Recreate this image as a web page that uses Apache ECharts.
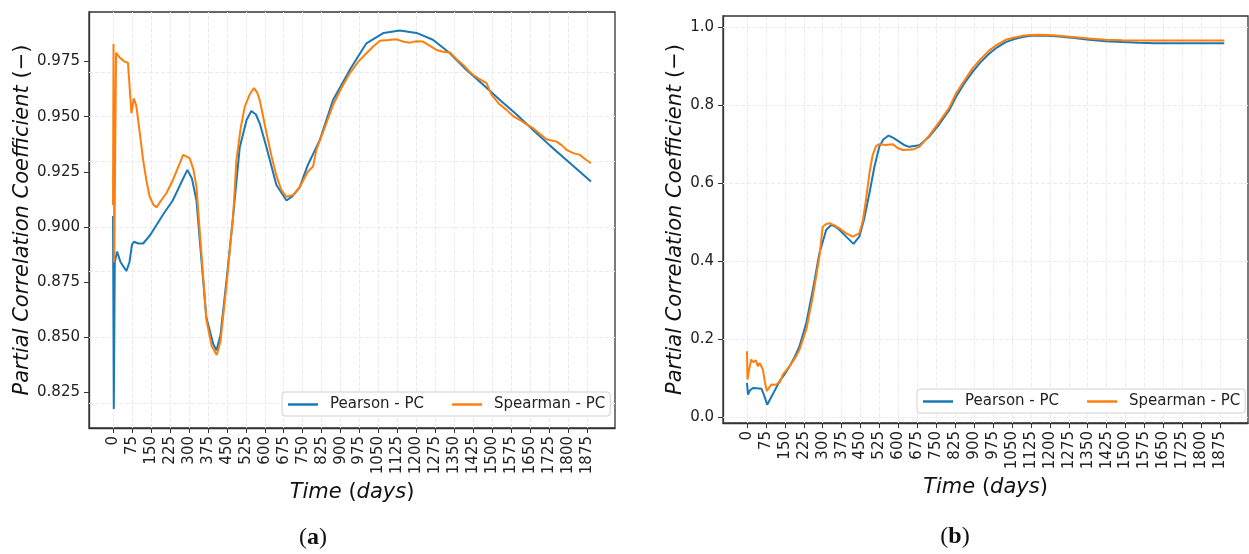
<!DOCTYPE html>
<html>
<head>
<meta charset="utf-8">
<script src="https://cdn.jsdelivr.net/npm/echarts@6/dist/echarts.min.js"></script>
<style>html,body{margin:0;padding:0;background:#fff}#main{width:1249px;height:554px}</style>
</head>
<body>
<div id="main"></div>
<script>
// tick values (days) shared by both panels
var dayTicks = [0,75,150,225,300,375,450,525,600,675,750,825,900,975,1050,1125,1200,1275,1350,1425,1500,1575,1650,1725,1800,1875];
var ticksA = [0.825,0.850,0.875,0.900,0.925,0.950,0.975];
var ticksB = [0.0,0.2,0.4,0.6,0.8,1.0];
var seriesNames = ['Pearson - PC','Spearman - PC'];

// panel (a): [day, value]
var pearsonA = [[0,0.905],[3,0.8174],[7,0.884],[16,0.8888],[30,0.884],[53,0.880],[65,0.884],[75,0.892],[83,0.8933],[100,0.8925],[119,0.8925],[145,0.896],[172,0.9009],[200,0.906],[236,0.912],[265,0.919],[294,0.9259],[312,0.922],[330,0.912],[343,0.894],[369,0.859],[396,0.847],[409,0.844],[425,0.851],[449,0.876],[475,0.905],[501,0.936],[528,0.9485],[547,0.9526],[565,0.951],[580,0.947],[607,0.936],[646,0.919],[686,0.912],[710,0.914],[738,0.918],[770,0.928],[818,0.9395],[870,0.9576],[940,0.972],[1002,0.9833],[1070,0.988],[1134,0.9891],[1200,0.988],[1265,0.9849],[1330,0.979],[1398,0.9712],[1464,0.9645],[1530,0.9576],[1596,0.951],[1661,0.944],[1727,0.937],[1793,0.9304],[1890,0.9206]];
var spearmanA = [[0,0.91],[2,0.983],[5,0.884],[12,0.979],[25,0.977],[45,0.975],[59,0.9745],[66,0.963],[73,0.9516],[82,0.9583],[92,0.955],[106,0.9425],[119,0.9304],[132,0.921],[145,0.9137],[160,0.910],[172,0.9089],[190,0.912],[211,0.9153],[237,0.9213],[264,0.9289],[277,0.9327],[303,0.9312],[318,0.926],[330,0.9183],[345,0.895],[369,0.858],[390,0.846],[410,0.8419],[425,0.848],[449,0.874],[475,0.905],[488,0.9304],[505,0.945],[521,0.9546],[540,0.960],[557,0.963],[570,0.961],[580,0.9576],[607,0.9425],[627,0.932],[647,0.9228],[665,0.917],[686,0.9137],[712,0.9145],[738,0.918],[770,0.925],[791,0.9274],[804,0.9349],[837,0.945],[870,0.9553],[903,0.963],[936,0.9697],[970,0.975],[1002,0.9788],[1030,0.982],[1055,0.9845],[1090,0.9848],[1121,0.9851],[1150,0.984],[1174,0.9836],[1200,0.9842],[1226,0.9841],[1255,0.982],[1279,0.9803],[1305,0.9795],[1332,0.9791],[1360,0.976],[1385,0.9735],[1405,0.971],[1424,0.969],[1450,0.967],[1477,0.9652],[1497,0.9599],[1525,0.956],[1556,0.9531],[1585,0.950],[1609,0.9485],[1635,0.9465],[1661,0.9448],[1690,0.942],[1714,0.9398],[1734,0.9392],[1754,0.9387],[1775,0.937],[1793,0.935],[1820,0.9335],[1846,0.9327],[1870,0.9305],[1890,0.9289]];

// panel (b): [day, value]
var pearsonB = [[0,0.087],[4,0.057],[12,0.068],[24,0.074],[40,0.073],[57,0.072],[68,0.055],[80,0.031],[100,0.055],[129,0.091],[150,0.110],[169,0.13],[190,0.155],[208,0.181],[235,0.241],[261,0.326],[287,0.42],[314,0.48],[334,0.4925],[350,0.488],[366,0.48],[393,0.4625],[422,0.444],[445,0.4625],[465,0.51],[485,0.574],[505,0.642],[524,0.693],[540,0.712],[561,0.722],[580,0.716],[604,0.706],[625,0.697],[643,0.693],[683,0.697],[722,0.719],[762,0.751],[801,0.787],[828,0.821],[860,0.855],[893,0.885],[925,0.910],[959,0.932],[990,0.948],[1025,0.962],[1060,0.970],[1091,0.975],[1125,0.978],[1157,0.979],[1190,0.978],[1223,0.977],[1289,0.973],[1355,0.968],[1421,0.964],[1486,0.962],[1552,0.960],[1618,0.959],[1684,0.959],[1780,0.959],[1891,0.959]];
var spearmanB = [[0,0.168],[2,0.0955],[8,0.12],[17,0.147],[25,0.14],[35,0.145],[43,0.13],[50,0.138],[63,0.121],[72,0.085],[79,0.066],[88,0.075],[96,0.083],[110,0.082],[129,0.087],[142,0.108],[169,0.13],[190,0.15],[208,0.172],[235,0.224],[261,0.309],[287,0.411],[300,0.488],[314,0.495],[327,0.497],[345,0.492],[366,0.484],[393,0.471],[419,0.4625],[445,0.471],[458,0.5],[470,0.55],[485,0.625],[498,0.672],[511,0.695],[524,0.70],[550,0.698],[577,0.70],[597,0.69],[617,0.685],[656,0.686],[683,0.693],[722,0.722],[762,0.757],[801,0.793],[828,0.83],[860,0.862],[893,0.894],[925,0.918],[959,0.94],[990,0.955],[1025,0.968],[1060,0.974],[1091,0.978],[1125,0.980],[1157,0.981],[1190,0.980],[1223,0.979],[1289,0.975],[1355,0.971],[1421,0.968],[1486,0.967],[1552,0.966],[1684,0.966],[1891,0.966]];

var blue = '#1a78b6', orange = '#ff7f0e';
var font = 'DejaVu Sans';
var gridColor = '#ebebeb';

function nameStyle() {
    return { rich: {
        i: { fontFamily: font, fontStyle: 'italic', fontSize: 21, color: '#111' },
        n: { fontFamily: font, fontSize: 21, color: '#111' } } };
}
function xAxisCfg(idx) {
    return {
        type: 'value', gridIndex: idx, min: -95, max: 1985,
        name: '{i|Time }{n|(}{i|days}{n|)}', nameLocation: 'middle', nameGap: 52,
        nameTextStyle: nameStyle(),
        axisLine: { show: true, onZero: false, lineStyle: { color: '#333', width: 1.3 } },
        axisTick: { show: true, length: 5, customValues: dayTicks, lineStyle: { color: '#333' } },
        axisLabel: { customValues: dayTicks, rotate: 90, margin: 8, fontFamily: font, fontSize: 15, color: '#222',
            formatter: function (v) { return String(v); } },
        splitLine: { show: false }
    };
}
function yAxisCfg(idx, min, max, ticks, dec, gap) {
    return {
        type: 'value', gridIndex: idx, min: min, max: max,
        name: '{i|Partial Correlation Coefficient }{n|(−)}', nameLocation: 'middle', nameGap: gap, nameRotate: 90,
        nameTextStyle: nameStyle(),
        axisLine: { show: true, onZero: false, lineStyle: { color: '#333', width: 1.3 } },
        axisTick: { show: true, length: 5, customValues: ticks, lineStyle: { color: '#333' } },
        axisLabel: { customValues: ticks, margin: 9, fontFamily: font, fontSize: 15, color: '#222',
            formatter: function (v) { return v.toFixed(dec); } },
        splitLine: { show: false }
    };
}
function legendCfg(left, top) {
    return {
        data: seriesNames, left: left, top: top, orient: 'horizontal', z: 10,
        icon: 'rect', itemWidth: 30, itemHeight: 2.5, itemGap: 28,
        padding: [5, 5, 4, 6], backgroundColor: '#fff', borderColor: '#d0d0d0', borderWidth: 1, borderRadius: 3,
        textStyle: { fontFamily: font, fontSize: 15, color: '#222', padding: [0, 0, 0, 7] }
    };
}
function line(name, xi, data, color) {
    return { name: name, type: 'line', xAxisIndex: xi, yAxisIndex: xi, data: data, showSymbol: false,
        color: color, lineStyle: { width: 2, color: color }, z: name === seriesNames[1] ? 3 : 2 };
}
// grid lines at the tick values, drawn under the data lines
function gridLines(xi, yTicks) {
    var lines = dayTicks.map(function (d) { return { xAxis: d }; })
        .concat(yTicks.map(function (v) { return { yAxis: v }; }));
    return { type: 'line', xAxisIndex: xi, yAxisIndex: xi, data: [], z: 1, silent: true,
        markLine: { z: 1, silent: true, symbol: 'none', label: { show: false }, animation: false,
            lineStyle: { color: gridColor, type: 'dashed', width: 1 }, data: lines } };
}

var chart = echarts.init(document.getElementById('main'));
var option = {
    animation: false,
    backgroundColor: '#fff',
    grid: [
        { left: 89, top: 12, width: 526, height: 416, show: true, borderColor: '#333', borderWidth: 1.3, backgroundColor: '#fff' },
        { left: 723, top: 16, width: 525, height: 407, show: true, borderColor: '#333', borderWidth: 1.3, backgroundColor: '#fff' }
    ],
    xAxis: [xAxisCfg(0), xAxisCfg(1)],
    yAxis: [yAxisCfg(0, 0.8088, 0.9975, ticksA, 3, 53), yAxisCfg(1, -0.016, 1.029, ticksB, 1, 34)],
    legend: [legendCfg(282, 392), legendCfg(917, 389)],
    series: [
        gridLines(0, ticksA),
        gridLines(1, ticksB),
        line(seriesNames[0], 0, pearsonA, blue),
        line(seriesNames[1], 0, spearmanA, orange),
        line(seriesNames[0], 1, pearsonB, blue),
        line(seriesNames[1], 1, spearmanB, orange)
    ],
    graphic: [
        { type: 'text', x: 313, y: 538, style: { text: '{p|(}{b|a}{p|)}', textAlign: 'center', textVerticalAlign: 'middle',
            rich: { p: { fontFamily: 'Liberation Serif', fontSize: 24, fill: '#111' }, b: { fontFamily: 'Liberation Serif', fontWeight: 'bold', fontSize: 24, fill: '#111' } } } },
        { type: 'text', x: 955, y: 537, style: { text: '{p|(}{b|b}{p|)}', textAlign: 'center', textVerticalAlign: 'middle',
            rich: { p: { fontFamily: 'Liberation Serif', fontSize: 24, fill: '#111' }, b: { fontFamily: 'Liberation Serif', fontWeight: 'bold', fontSize: 24, fill: '#111' } } } }
    ]
};
chart.setOption(option);
</script>
</body>
</html>
